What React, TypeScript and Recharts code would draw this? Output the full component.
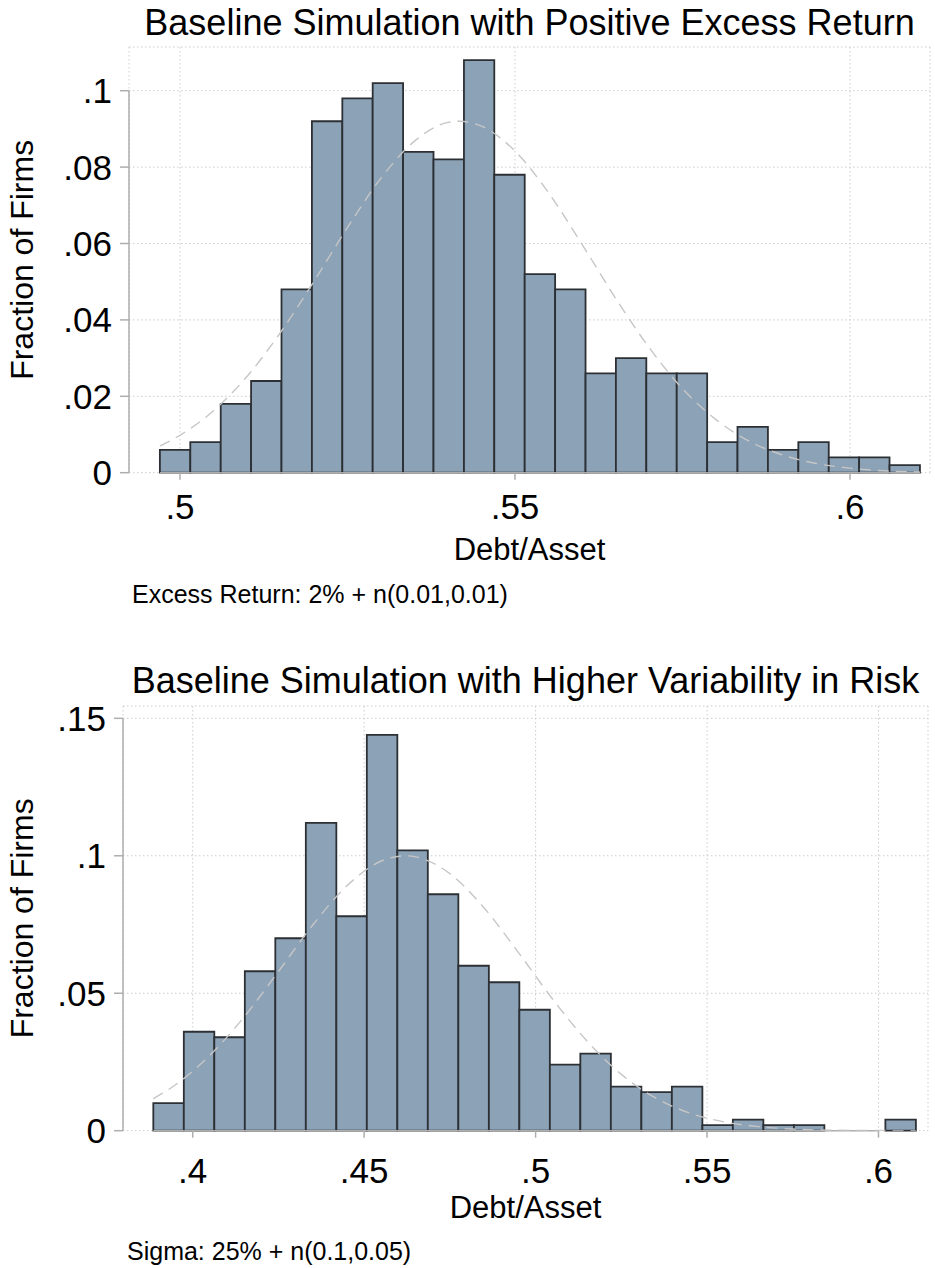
import React from "react";
import {
  ComposedChart,
  Line,
  XAxis,
  YAxis,
  CartesianGrid,
  ReferenceArea,
  ReferenceLine,
} from "recharts";

// top panel: bin edges, fractions per bin, fitted normal curve
const topEdges = [
  0.497, 0.50154, 0.50608, 0.51061, 0.51515, 0.51969, 0.52423, 0.52876, 0.5333,
  0.53784, 0.54238, 0.54691, 0.55145, 0.55599, 0.56053, 0.56506, 0.5696, 0.57414,
  0.57868, 0.58321, 0.58775, 0.59229, 0.59683, 0.60136, 0.6059, 0.61044,
];
const topFractions = [
  0.006, 0.008, 0.018, 0.024, 0.048, 0.092, 0.098, 0.102, 0.084, 0.082, 0.108,
  0.078, 0.052, 0.048, 0.026, 0.03, 0.026, 0.026, 0.008, 0.012, 0.006, 0.008,
  0.004, 0.004, 0.002,
];
const topCurveX = [
  0.497, 0.5, 0.505, 0.51, 0.515, 0.52, 0.525, 0.53, 0.535, 0.54, 0.5417, 0.545,
  0.55, 0.555, 0.56, 0.565, 0.57, 0.575, 0.58, 0.585, 0.59, 0.595, 0.6, 0.605, 0.6104,
];
const topCurveY = [
  0.007, 0.0098, 0.0162, 0.0252, 0.0367, 0.0501, 0.0642, 0.0771, 0.0868, 0.0917,
  0.092, 0.0907, 0.0842, 0.0733, 0.0598, 0.0457, 0.0328, 0.022, 0.0139, 0.0082,
  0.0046, 0.0024, 0.0012, 0.0005, 0.0002,
];
const topXTicks = [0.5, 0.55, 0.6];
const topYTicks = [0, 0.02, 0.04, 0.06, 0.08, 0.1];

// bottom panel
const bottomEdges = [
  0.38851, 0.39741, 0.4063, 0.4152, 0.42409, 0.43299, 0.44189, 0.45078, 0.45968,
  0.46857, 0.47747, 0.48637, 0.49526, 0.50416, 0.51305, 0.52195, 0.53085, 0.53974,
  0.54864, 0.55753, 0.56643, 0.57533, 0.58422, 0.59312, 0.60201, 0.61091,
];
const bottomFractions = [
  0.01, 0.036, 0.034, 0.058, 0.07, 0.112, 0.078, 0.144, 0.102, 0.086, 0.06, 0.054,
  0.044, 0.024, 0.028, 0.016, 0.014, 0.016, 0.002, 0.004, 0.002, 0.002, 0, 0, 0.004,
];
const bottomCurveX = [
  0.3885, 0.395, 0.405, 0.415, 0.425, 0.435, 0.445, 0.455, 0.462, 0.465, 0.475,
  0.485, 0.495, 0.505, 0.515, 0.525, 0.535, 0.545, 0.555, 0.565, 0.575, 0.585,
  0.595, 0.6109,
];
const bottomCurveY = [
  0.0116, 0.0167, 0.0274, 0.0414, 0.0579, 0.0748, 0.0891, 0.0981, 0.1, 0.0996,
  0.0935, 0.081, 0.0648, 0.0478, 0.0326, 0.0205, 0.0119, 0.0064, 0.0032, 0.0015,
  0.0006, 0.0002, 0.0001, 0,
];
const bottomXTicks = [0.4, 0.45, 0.5, 0.55, 0.6];
const bottomYTicks = [0, 0.05, 0.1, 0.15];

const FONT = '"Liberation Sans", Arial, Helvetica, sans-serif';
const W = 935;
const H = 634;
const BAR_FILL = "#8ca2b7";
const BAR_EDGE = "#2c3034";
const AXIS = "#aeaeae";

const fmt = (v: number) => (v === 0 ? "0" : String(v).replace(/^0\./, "."));

interface PanelProps {
  title: string;
  note: string;
  edges: number[];
  fractions: number[];
  curveX: number[];
  curveY: number[];
  xTicks: number[];
  yTicks: number[];
  xDomain: [number, number];
  yMax: number;
  axisEnd: number;
  top: number;
  left: number;
  right: number;
  plotBottom: number;
  xTickMargin: number;
  titleTop: number;
  noteTop: number;
  noteLeft: number;
}

function HistPanel(p: PanelProps) {
  const curve = p.curveX.map((x, i) => ({ x, y: p.curveY[i] }));
  const plotCenter = (p.left + W - p.right) / 2;
  const plotMid = (p.top + p.plotBottom) / 2;
  const yTop = p.yTicks[p.yTicks.length - 1];

  return (
    <div style={{ position: "relative", width: W, height: H }}>
      <div
        style={{
          position: "absolute",
          top: p.titleTop,
          left: p.left,
          width: W - p.left - p.right,
          textAlign: "center",
          fontFamily: FONT,
          fontSize: 36,
          lineHeight: 1,
          whiteSpace: "nowrap",
          color: "#000",
        }}
      >
        {p.title}
      </div>
      <ComposedChart
        width={W}
        height={H}
        data={curve}
        margin={{ top: p.top, right: p.right, bottom: 0, left: 0 }}
      >
        <CartesianGrid stroke="#cccccc" strokeDasharray="1.5 2.5" strokeWidth={1} />
        <XAxis
          type="number"
          dataKey="x"
          domain={p.xDomain}
          ticks={p.xTicks}
          allowDataOverflow
          interval={0}
          tickFormatter={fmt}
          height={H - p.plotBottom}
          axisLine={false}
          tickLine={{ stroke: AXIS, strokeWidth: 1.5 }}
          tickSize={7}
          tickMargin={p.xTickMargin}
          tick={{ fontSize: 35, fill: "#000", fontFamily: FONT }}
          label={{
            content: () => (
              <text
                x={plotCenter}
                y={p.plotBottom + 87.5}
                textAnchor="middle"
                fontFamily={FONT}
                fontSize={31}
                fill="#000"
              >
                Debt/Asset
              </text>
            ),
          }}
        />
        <YAxis
          type="number"
          domain={[0, p.yMax]}
          ticks={p.yTicks}
          allowDataOverflow
          interval={0}
          tickFormatter={fmt}
          width={p.left}
          axisLine={false}
          tickLine={{ stroke: AXIS, strokeWidth: 1.5 }}
          tickSize={9}
          tickMargin={8}
          tick={{ fontSize: 35, fill: "#000", fontFamily: FONT }}
          label={{
            content: () => (
              <text
                transform={`translate(33, ${plotMid}) rotate(-90)`}
                textAnchor="middle"
                fontFamily={FONT}
                fontSize={32}
                fill="#000"
              >
                Fraction of Firms
              </text>
            ),
          }}
        />
        <ReferenceLine
          segment={[
            { x: p.edges[0], y: 0 },
            { x: p.axisEnd, y: 0 },
          ]}
          stroke={AXIS}
          strokeWidth={1.5}
          ifOverflow="visible"
        />
        {p.fractions.map((f, i) =>
          f > 0 ? (
            <ReferenceArea
              key={i}
              x1={p.edges[i]}
              x2={p.edges[i + 1]}
              y1={0}
              y2={f}
              fill={BAR_FILL}
              fillOpacity={1}
              stroke={BAR_EDGE}
              strokeWidth={1.8}
              ifOverflow="visible"
            />
          ) : null
        )}
        <Line
          dataKey="y"
          type="monotone"
          stroke="#c6c6c6"
          strokeWidth={1.4}
          strokeDasharray="11 7"
          dot={false}
          activeDot={false}
          isAnimationActive={false}
          zIndex={1000}
        />
        <ReferenceLine
          segment={[
            { x: p.xDomain[0], y: 0 },
            { x: p.xDomain[0], y: yTop },
          ]}
          stroke={AXIS}
          strokeWidth={1.5}
          ifOverflow="visible"
        />
      </ComposedChart>
      <div
        style={{
          position: "absolute",
          top: p.noteTop,
          left: p.noteLeft,
          fontFamily: FONT,
          fontSize: 25,
          lineHeight: 1,
          whiteSpace: "nowrap",
          color: "#000",
        }}
      >
        {p.note}
      </div>
    </div>
  );
}

export default function App() {
  return (
    <div style={{ position: "absolute", left: 0, top: 0, width: W, height: 2 * H, background: "#fff" }}>
      <HistPanel
        title="Baseline Simulation with Positive Excess Return"
        note="Excess Return: 2% + n(0.01,0.01)"
        edges={topEdges}
        fractions={topFractions}
        curveX={topCurveX}
        curveY={topCurveY}
        xTicks={topXTicks}
        yTicks={topYTicks}
        xDomain={[0.49239, 0.61194]}
        yMax={0.11144}
        axisEnd={topEdges[topEdges.length - 1]}
        top={47}
        left={129}
        right={5}
        plotBottom={472.7}
        xTickMargin={14}
        titleTop={5}
        noteTop={581.5}
        noteLeft={132}
      />
      <HistPanel
        title="Baseline Simulation with Higher Variability in Risk"
        note="Sigma: 25% + n(0.1,0.05)"
        edges={bottomEdges}
        fractions={bottomFractions}
        curveX={bottomCurveX}
        curveY={bottomCurveY}
        xTicks={bottomXTicks}
        yTicks={bottomYTicks}
        xDomain={[0.37967, 0.61444]}
        yMax={0.15448}
        axisEnd={0.6}
        top={72}
        left={123}
        right={7}
        plotBottom={496.7}
        xTickMargin={20}
        titleTop={29}
        noteTop={605}
        noteLeft={127}
      />
    </div>
  );
}
